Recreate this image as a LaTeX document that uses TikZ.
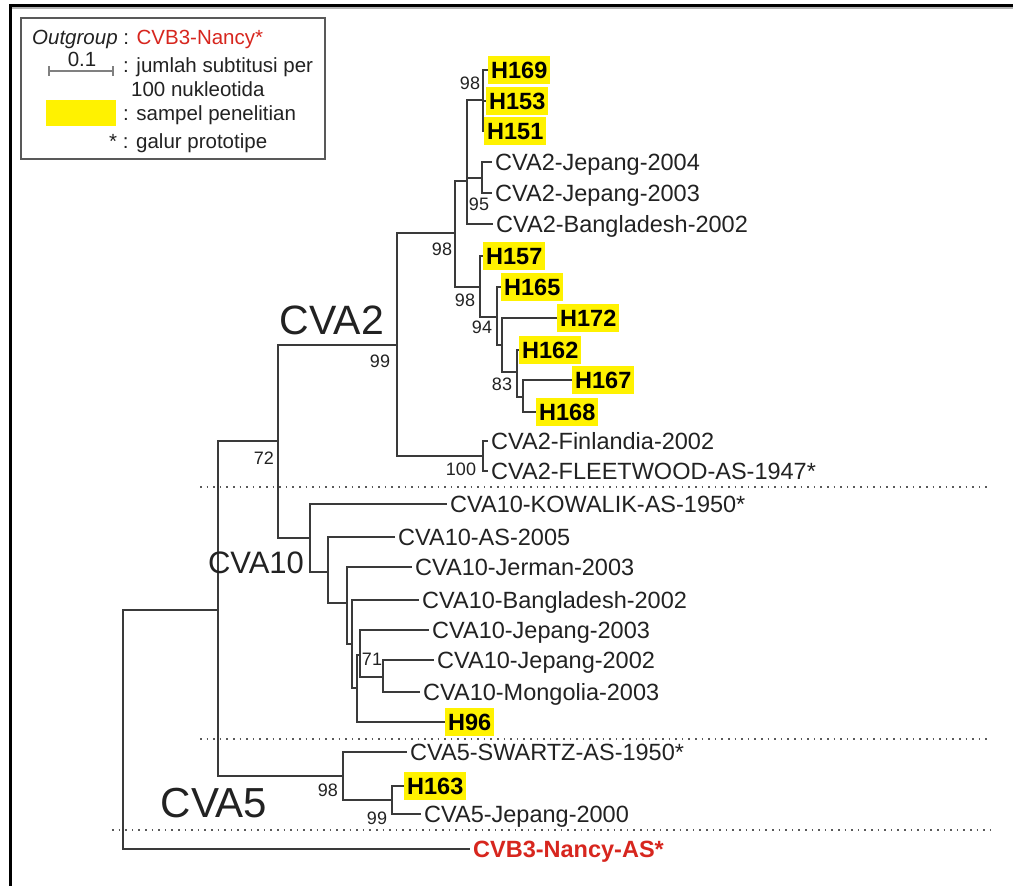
\documentclass[tikz,border=0pt]{standalone}
\usepackage{fontspec}
\setmainfont{Liberation Sans}
\usetikzlibrary{calc}
\definecolor{treeline}{HTML}{3A3A3A}
\definecolor{hiyellow}{HTML}{FFF200}
\definecolor{outred}{HTML}{D7261E}
\definecolor{dotgray}{HTML}{5A5A5A}
\definecolor{txt}{HTML}{222222}
\tikzset{
  br/.style={draw=treeline,line width=1.3pt},
  leaf/.style={anchor=west,inner xsep=3pt,inner ysep=0pt,text=txt,
    font=\fontsize{23.5}{28}\selectfont,text height=17pt,text depth=0pt},
  sample/.style={leaf,fill=hiyellow,text=black,
    font=\bfseries\fontsize{23.5}{28}\selectfont,inner xsep=3pt,inner ysep=5.5pt},
  boot/.style={font=\fontsize{18}{21}\selectfont,inner sep=0pt,text=txt},
  cladelbl/.style={inner sep=0pt,text=txt},
  legtxt/.style={anchor=base west,inner sep=0pt,text=txt,font=\fontsize{20.5}{24}\selectfont},
  sepline/.style={draw=dotgray,line width=1.5pt,dash pattern=on 1.6pt off 5pt},
}
\begin{document}
\begin{tikzpicture}[x=1pt,y=-1pt]
\useasboundingbox (0,0) rectangle (1013,886);
\fill[white] (0,0) rectangle (1013,886);
% outer frame
\coordinate (fbl) at (10,886);
\coordinate (ftl) at (10,5);
\coordinate (ftr) at (1013,5);
\draw[gray!60,line width=1.5pt] (11,8) -- (1013,8);
\draw[black,line width=3pt] (fbl) -- (ftl) -- (ftr);

% legend
\node[draw=black!65,line width=1.5pt,minimum width=304pt,minimum height=141pt,inner sep=0pt] (legend) at (173,88.5) {};
\node[legtxt] (leg1) at (32,45) {\textit{Outgroup} : \textcolor{outred}{CVB3-Nancy*}};
\node[anchor=base,inner sep=0pt,text=txt,font=\fontsize{20.5}{24}\selectfont] (legscale) at (82,66) {0.1};
\coordinate (sbl) at (49,71);
\coordinate (sbr) at (113,71);
\draw[gray,line width=1.2pt] (sbl) -- (sbr);
\draw[gray,line width=1.2pt] ($(sbl)+(0,-5)$) -- ($(sbl)+(0,5)$);
\draw[gray,line width=1.2pt] ($(sbr)+(0,-5)$) -- ($(sbr)+(0,5)$);
\node[legtxt] (leg2) at (123,72) {: jumlah subtitusi per};
\node[legtxt] (leg3) at (131,96) {100 nukleotida};
\node[fill=hiyellow,minimum width=70pt,minimum height=26pt,inner sep=0pt] (legbox) at (81,113) {};
\node[legtxt] (leg4) at (123,120) {: sampel penelitian};
\node[legtxt] (leg5) at (109,148) {*\ : galur prototipe};

% internal nodes
\coordinate (root) at (123,729);
\coordinate (nA) at (218,610);
\coordinate (nB) at (278,441);
\coordinate (nC2) at (397,345);
\coordinate (n455) at (455,233);
\coordinate (n467) at (467,181);
\coordinate (n483) at (483,100);
\coordinate (n482) at (482,178);
\coordinate (n480) at (480,287);
\coordinate (n497) at (497,317);
\coordinate (n502) at (502,345);
\coordinate (n517) at (517,372);
\coordinate (n523) at (523,397);
\coordinate (nFin) at (483,456);
\coordinate (n10) at (310,538);
\coordinate (n328) at (328,572);
\coordinate (n347) at (347,603);
\coordinate (n352) at (352,644);
\coordinate (n357) at (357,688);
\coordinate (n360) at (360,655);
\coordinate (n383) at (383,677);
\coordinate (n5) at (343,776);
\coordinate (n392) at (392,800);

% leaves
\node[sample] (h169) at (488,70) {H169};
\node[sample] (h153) at (486,101) {H153};
\node[sample] (h151) at (484,131) {H151};
\node[leaf] (jp04) at (492,162) {CVA2-Jepang-2004};
\node[leaf] (jp03) at (492,193) {CVA2-Jepang-2003};
\node[leaf] (bd02) at (493,224) {CVA2-Bangladesh-2002};
\node[sample] (h157) at (483,256) {H157};
\node[sample] (h165) at (501,287) {H165};
\node[sample] (h172) at (557,318) {H172};
\node[sample] (h162) at (519,350) {H162};
\node[sample] (h167) at (572,380) {H167};
\node[sample] (h168) at (536,412) {H168};
\node[leaf] (fin) at (488,441) {CVA2-Finlandia-2002};
\node[leaf] (flw) at (488,471) {CVA2-FLEETWOOD-AS-1947*};
\node[leaf] (kow) at (447,504) {CVA10-KOWALIK-AS-1950*};
\node[leaf] (as05) at (395,537) {CVA10-AS-2005};
\node[leaf] (jer) at (412,567) {CVA10-Jerman-2003};
\node[leaf] (bd10) at (419,600) {CVA10-Bangladesh-2002};
\node[leaf] (jp1003) at (429,630) {CVA10-Jepang-2003};
\node[leaf] (jp1002) at (434,660) {CVA10-Jepang-2002};
\node[leaf] (mon) at (420,692) {CVA10-Mongolia-2003};
\node[sample] (h96) at (445,722) {H96};
\node[leaf] (swz) at (407,752) {CVA5-SWARTZ-AS-1950*};
\node[sample] (h163) at (404,786) {H163};
\node[leaf] (jp00) at (421,814) {CVA5-Jepang-2000};
\node[leaf,text=outred,font=\bfseries\fontsize{23.5}{28}\selectfont] (cvb3) at (470,849) {CVB3-Nancy-AS*};

% branches
\draw[br] (root) |- (nA);
\draw[br] (root) |- (cvb3.west);
\draw[br] (nA) |- (nB);
\draw[br] (nA) |- (n5);
\draw[br] (nB) |- (nC2);
\draw[br] (nB) |- (n10);
\draw[br] (nC2) |- (n455);
\draw[br] (nC2) |- (nFin);
\draw[br] (n455) |- (n467);
\draw[br] (n455) |- (n480);
\draw[br] (n467) |- (n483);
\draw[br] (n467) |- (n482);
\draw[br] (n467) |- (bd02.west);
\coordinate (thk1) at (467,135);
\coordinate (thk2) at (467,178);
\draw[draw=treeline,line width=2.6pt] (thk1) -- (thk2);
\draw[br] (n483) |- (h169.west);
\draw[br] (n483) |- (h153.west);
\draw[br] (n483) |- (h151.west);
\draw[br] (n482) |- (jp04.west);
\draw[br] (n482) |- (jp03.west);
\draw[br] (n480) |- (h157.west);
\draw[br] (n480) |- (n497);
\draw[br] (n497) |- (h165.west);
\draw[br] (n497) |- (n502);
\draw[br] (n502) |- (h172.west);
\draw[br] (n502) |- (n517);
\draw[br] (n517) |- (h162.west);
\draw[br] (n517) |- (n523);
\draw[br] (n523) |- (h167.west);
\draw[br] (n523) |- (h168.west);
\draw[br] (nFin) |- (fin.west);
\draw[br] (nFin) |- (flw.west);
\draw[br] (n10) |- (kow.west);
\draw[br] (n10) |- (n328);
\draw[br] (n328) |- (as05.west);
\draw[br] (n328) |- (n347);
\draw[br] (n347) |- (jer.west);
\draw[br] (n347) |- (n352);
\draw[br] (n352) |- (bd10.west);
\draw[br] (n352) |- (n357);
\draw[br] (n357) |- (n360);
\draw[br] (n357) |- (h96.west);
\draw[br] (n360) |- (jp1003.west);
\draw[br] (n360) |- (n383);
\draw[br] (n383) |- (jp1002.west);
\draw[br] (n383) |- (mon.west);
\draw[br] (n5) |- (swz.west);
\draw[br] (n5) |- (n392);
\draw[br] (n392) |- (h163.west);
\draw[br] (n392) |- (jp00.west);

% bootstrap values
\node[boot] (b1) at (470,83) {98};
\node[boot] (b2) at (479,204) {95};
\node[boot] (b3) at (442,249) {98};
\node[boot] (b4) at (465,300) {98};
\node[boot] (b5) at (482,327) {94};
\node[boot] (b6) at (502,384) {83};
\node[boot] (b7) at (380,361) {99};
\node[boot] (b8) at (461,469) {100};
\node[boot] (b9) at (264,458) {72};
\node[boot] (b10) at (372,659) {71};
\node[boot] (b11) at (328,790) {98};
\node[boot] (b12) at (377,818) {99};

% clade labels
\node[cladelbl,font=\fontsize{41}{45}\selectfont] (lcva2) at (332,320) {CVA2};
\node[cladelbl,font=\fontsize{31}{35}\selectfont] (lcva10) at (256,563) {CVA10};
\node[cladelbl,font=\fontsize{42}{46}\selectfont] (lcva5) at (214,803) {CVA5};

% separators
\coordinate (s1a) at (200,487); \coordinate (s1b) at (990,487);
\coordinate (s2a) at (200,739); \coordinate (s2b) at (990,739);
\coordinate (s3a) at (112,830); \coordinate (s3b) at (990,830);
\draw[sepline] (s1a) -- (s1b);
\draw[sepline] (s2a) -- (s2b);
\draw[sepline] (s3a) -- (s3b);
\end{tikzpicture}
\end{document}
